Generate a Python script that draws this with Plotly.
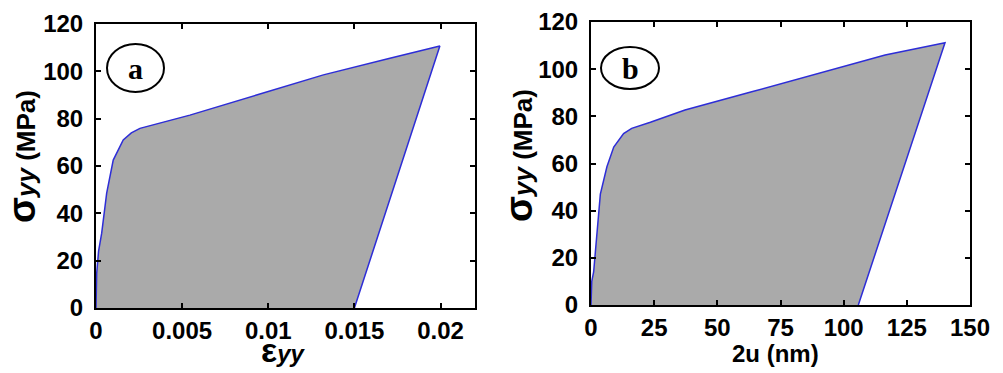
import plotly.graph_objects as go

# Panel a: stress vs strain
strain_a = [0.0, 0.00002, 0.00004, 0.00015, 0.00033, 0.00062, 0.0010, 0.00158, 0.00205,
            0.00255, 0.0043, 0.00545, 0.00932, 0.0132, 0.01706, 0.01996, 0.0150]
stress_a = [0.0, 8.0, 14.7, 24.0, 31.6, 48.5, 62.5, 71.0, 74.0,
            75.9, 79.4, 81.5, 90.0, 98.5, 105.5, 110.7, 0.0]

# Panel b: stress vs opening displacement 2u (nm)
disp_b = [0.0, 0.3, 1.05, 2.4, 3.7, 6.3, 9.0, 12.9, 16.1, 23.5, 37.2, 63.6, 90.0, 116.4,
          140.1, 105.8]
stress_b = [0.0, 10.0, 14.0, 30.0, 47.0, 58.6, 67.0, 72.7, 74.9, 77.5, 82.7, 90.4, 98.2,
            106.0, 111.2, 0.0]

ticks_a = [0, 0.005, 0.01, 0.015, 0.02]
ticklabels_a = ["0", "0.005", "0.01", "0.015", "0.02"]
ticks_b = [0, 25, 50, 75, 100, 125, 150]
ticks_y = [0, 20, 40, 60, 80, 100, 120]

W, H = 1003, 373
FILL = "rgb(170,170,170)"
LINE = "rgb(45,45,215)"
FONT = "Liberation Sans"

fig = go.Figure()
fig.add_trace(go.Scatter(x=strain_a, y=stress_a, mode="lines", fill="toself",
                         fillcolor=FILL, line=dict(color=LINE, width=1.5),
                         xaxis="x", yaxis="y", showlegend=False))
fig.add_trace(go.Scatter(x=disp_b, y=stress_b, mode="lines", fill="toself",
                         fillcolor=FILL, line=dict(color=LINE, width=1.5),
                         xaxis="x2", yaxis="y2", showlegend=False))

tickfont = dict(family=FONT, size=24, color="black", weight="bold")
common = dict(showgrid=False, zeroline=False, showline=True, linecolor="black",
              linewidth=2, mirror="ticks", ticks="inside", ticklen=5,
              tickwidth=1.5, tickcolor="black", tickfont=tickfont, automargin=False)

def px(x):
    return x / W

def py(y):
    return 1 - y / H

fig.update_layout(
    template="none",
    width=W, height=H, margin=dict(l=0, r=0, t=0, b=0, pad=0, autoexpand=False),
    paper_bgcolor="white", plot_bgcolor="white",
    xaxis=dict(domain=[px(96), px(475)], range=[0, 0.022], tickvals=ticks_a,
               ticktext=ticklabels_a, anchor="y", ticklabelstandoff=0, **common),
    yaxis=dict(domain=[py(308), py(24)], range=[0, 120], tickvals=ticks_y,
               anchor="x", ticklabelstandoff=6, **common),
    xaxis2=dict(domain=[px(591), px(970)], range=[0, 150], tickvals=ticks_b,
                anchor="y2", ticklabelstandoff=0, **common),
    yaxis2=dict(domain=[py(305), py(22)], range=[0, 120], tickvals=ticks_y,
                anchor="x2", ticklabelstandoff=6, **common),
)

ytitle = ('<span style="font-size:38px">σ</span><i>yy</i> (MPa)')
for xc, yc in [(22, 157), (519, 156)]:
    fig.add_annotation(x=px(xc), y=py(yc), xref="paper", yref="paper", text=ytitle,
                       textangle=-90, showarrow=False, xanchor="center", yanchor="middle",
                       font=dict(family=FONT, size=26, color="black", weight="bold"))

fig.add_annotation(x=px(283), y=py(350), xref="paper", yref="paper",
                   text='<span style="font-size:34px">ε</span><i>yy</i>',
                   showarrow=False, xanchor="center", yanchor="middle",
                   font=dict(family=FONT, size=24, color="black", weight="bold"))
fig.add_annotation(x=px(775), y=py(353), xref="paper", yref="paper", text="2u (nm)",
                   showarrow=False, xanchor="center", yanchor="middle",
                   font=dict(family=FONT, size=24, color="black", weight="bold"))

# circled panel labels
for (x0, y0, x1, y1), lab in [((107, 44, 164, 92), "a"), ((601, 47, 659, 89), "b")]:
    fig.add_shape(type="circle", xref="paper", yref="paper",
                  x0=px(x0), x1=px(x1), y0=py(y1), y1=py(y0),
                  line=dict(color="black", width=2))
    fig.add_annotation(x=px((x0 + x1) / 2), y=py((y0 + y1) / 2), xref="paper", yref="paper",
                       text="<b>%s</b>" % lab, showarrow=False,
                       xanchor="center", yanchor="middle",
                       font=dict(family="Liberation Serif", size=30, color="black"))

fig.write_html("out.html")
